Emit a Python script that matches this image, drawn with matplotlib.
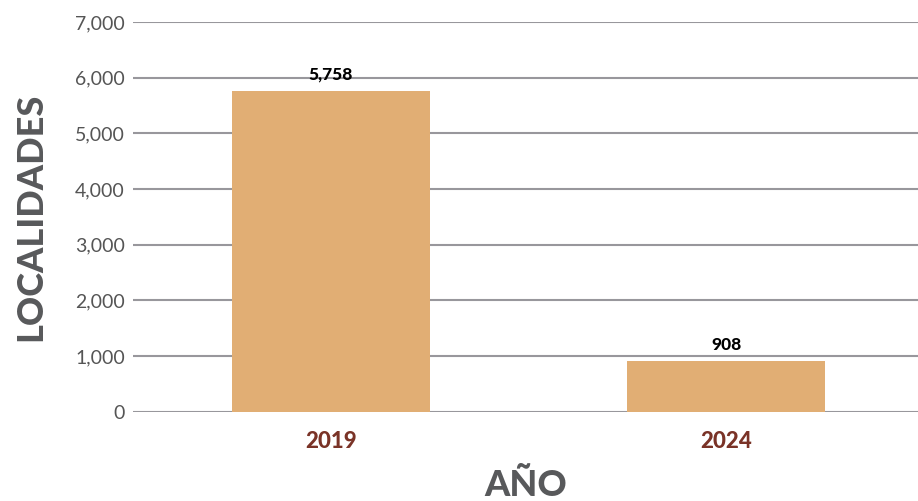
import matplotlib.pyplot as plt

# datos
years = ["2019", "2024"]
localidades = [5758, 908]
yticks = [0, 1000, 2000, 3000, 4000, 5000, 6000, 7000]

plt.rcParams['font.family'] = ['Lato', 'DejaVu Sans']

fig = plt.figure(figsize=(9.18, 5.01), dpi=100)
ax = fig.add_axes([0.145, 0.178, 0.855, 0.778])

x = range(len(years))
bars = ax.bar(x, localidades, width=0.5, color='#E1AE74', zorder=2)

for b, v in zip(bars, localidades):
    ax.text(b.get_x() + b.get_width() / 2, v + 150, f"{v:,}",
            ha='center', va='bottom', fontsize=12.5, fontweight='black', color='black')

ax.set_ylim(0, 7000)
ax.set_xlim(-0.5, 1.485)
ax.set_yticks(yticks)
ax.set_yticklabels([f"{t:,}" for t in yticks], fontsize=14, color='#555555')
ax.set_xticks(list(x))
ax.set_xticklabels(years, fontsize=16, fontweight='black', color='#7A3327')
ax.tick_params(axis='both', length=0)
ax.tick_params(axis='y', pad=6)
ax.tick_params(axis='x', pad=14)

ax.grid(axis='y', color='#98979C', linewidth=1.5, zorder=0)
for s in ax.spines.values():
    s.set_visible(False)

ax.set_xlabel("AÑO", fontsize=26, fontweight='black', color='#58595B', labelpad=12)
ax.set_ylabel("LOCALIDADES", fontsize=26, fontweight='black', color='#58595B', labelpad=20)

fig.savefig('out.png', dpi=100)
plt.close(fig)
